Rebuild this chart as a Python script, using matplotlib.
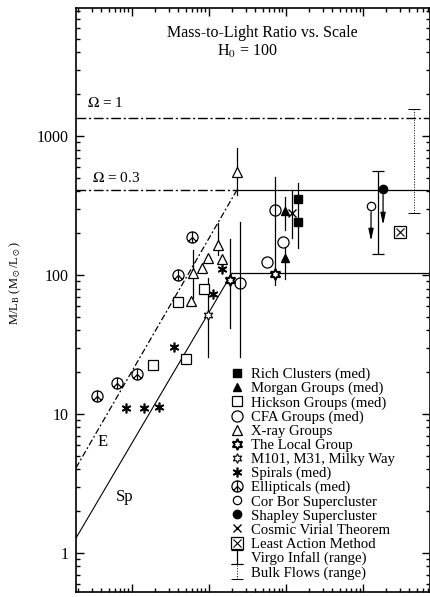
import numpy as np
import matplotlib.pyplot as plt
from matplotlib.path import Path
from matplotlib.ticker import FixedLocator, FuncFormatter, NullFormatter, LogLocator

plt.rcParams['font.family'] = ['Liberation Serif', 'DejaVu Serif']
plt.rcParams['mathtext.fontset'] = 'stix'

# scale R (h^-1 Mpc) and M/L_B values
rich_r = [1.43, 1.43]
rich_ml = [353, 241]
rich_lo, rich_hi = 157, 460

morgan_r = [0.97, 0.97]
morgan_ml = [290, 133]
morgan_lo = [211, 94]
morgan_hi = [365, 160]

hickson_r = [0.0187, 0.0503, 0.0396, 0.0861]
hickson_ml = [22.7, 24.7, 64.3, 79.8]

cfa_r = [0.72, 0.914, 0.567, 0.253]
cfa_ml = [294, 173, 124, 88]

xray_r = [0.0583, 0.0619, 0.0811, 0.0971, 0.131, 0.148, 0.231]
xray_ml = [65.3, 104, 113, 133, 165, 131, 552]
xray_err_r = [0.0619, 0.131, 0.231]
xray_err_lo = [68.7, 140, 377]
xray_err_hi = [152, 237, 820]

local_r = [0.1875, 0.72]
local_ml = [92.5, 102]
local_lo = [41.9, 85.2]
local_hi = [182, 508]

m101_r = [0.0971]
m101_ml = [51.9]
m101_lo, m101_hi = 25.9, 95.7

cfa_err_r = 0.253
cfa_err_lo, cfa_err_hi = 25.9, 241

spiral_r = [0.0084, 0.0143, 0.0224, 0.035, 0.113, 0.148]
spiral_ml = [11.0, 11.1, 11.3, 30.5, 73.5, 111]

ellip_r = [0.0035, 0.0064, 0.0116, 0.0396, 0.0601]
ellip_ml = [13.4, 16.6, 19.5, 100, 188]

corbor_r, corbor_ml, corbor_lim = 12.7, 314, 168
shapley_r, shapley_ml, shapley_lim = 18.2, 417, 219

virial_r = [1.2]
virial_ml = [280]
virial_lo, virial_hi = 185, 410

least_r, least_ml = 30.3, 205
virgo_r, virgo_lo, virgo_hi = 15.7, 142, 561
bulk_r, bulk_lo, bulk_hi = 45.9, 280, 1563

omega1_ml = 1350
omega03_ml = 410
e_r = [0.00188, 0.231]
e_ml = [4.1, 410]
sp_r = [0.00188, 0.199]
sp_ml = [1.28, 103]
plateau_sp = 103

legend_labels = ['Rich Clusters (med)', 'Morgan Groups (med)', 'Hickson Groups (med)',
                 'CFA Groups (med)', 'X-ray Groups', 'The Local Group',
                 'M101, M31, Milky Way', 'Spirals (med)', 'Ellipticals (med)',
                 'Cor Bor Supercluster', 'Shapley Supercluster', 'Cosmic Virial Theorem',
                 'Least Action Method', 'Virgo Infall (range)', 'Bulk Flows (range)']

xmin, xmax = 0.00188, 74.0
ymin, ymax = 0.524, 8340

# peace-sign marker for the ellipticals
peace = Path.make_compound_path(
    Path.unit_circle(),
    Path([(0, -1), (0, 1), (0, 0), (-0.7, -0.7), (0, 0), (0.7, -0.7)],
         [Path.MOVETO, Path.LINETO, Path.MOVETO, Path.LINETO, Path.MOVETO, Path.LINETO]))

fig = plt.figure(figsize=(4.3, 5.97), dpi=100)
ax = fig.add_axes([0.1767, 0.0084, 0.8233, 0.978])
ax.set_xscale('log')
ax.set_yscale('log')
ax.set_xlim(xmin, xmax)
ax.set_ylim(ymin, ymax)

k = dict(color='black', lw=0.9)

# model lines
ax.axhline(omega1_ml, color='black', lw=1.0, ls=(0, (7, 2, 1.5, 2)))
ax.plot([xmin, e_r[1]], [omega03_ml, omega03_ml], color='black', lw=1.0, ls=(0, (7, 2, 1.5, 2)))
ax.plot([e_r[1], xmax], [omega03_ml, omega03_ml], **k)
ax.plot(e_r, e_ml, color='black', lw=0.9, ls=(0, (5, 2, 1.5, 2)))
ax.plot(sp_r, sp_ml, color='black', lw=0.8)
ax.plot([sp_r[1], xmax], [plateau_sp, plateau_sp], **k)

# error bars
for r, lo, hi in zip(xray_err_r, xray_err_lo, xray_err_hi):
    ax.plot([r, r], [lo, hi], **k)
for r, lo, hi in zip(local_r, local_lo, local_hi):
    ax.plot([r, r], [lo, hi], **k)
for r, lo, hi in zip(morgan_r, morgan_lo, morgan_hi):
    ax.plot([r, r], [lo, hi], **k)
ax.plot([m101_r[0]] * 2, [m101_lo, m101_hi], **k)
ax.plot([cfa_err_r] * 2, [cfa_err_lo, cfa_err_hi], **k)
ax.plot([virial_r[0]] * 2, [virial_lo, virial_hi], **k)
ax.plot([rich_r[0]] * 2, [rich_lo, rich_hi], **k)

# points
h_rich, = ax.plot(rich_r, rich_ml, 's', color='black', ms=6)
h_morgan, = ax.plot(morgan_r, morgan_ml, '^', color='black', ms=6)
h_hick, = ax.plot(hickson_r, hickson_ml, 's', mfc='white', mec='black', mew=0.9, ms=7)
h_cfa, = ax.plot(cfa_r, cfa_ml, 'o', mfc='none', mec='black', mew=0.9, ms=8)
h_xray, = ax.plot(xray_r, xray_ml, '^', mfc='white', mec='black', mew=0.9, ms=7)
h_local, = ax.plot(local_r, local_ml, marker=(6, 1, 0), ls='none', mfc='white', mec='black', mew=1.4, ms=8)
h_m101, = ax.plot(m101_r, m101_ml, marker=(6, 1, 0), ls='none', mfc='white', mec='black', mew=0.8, ms=7)
h_spiral, = ax.plot(spiral_r, spiral_ml, marker=(6, 2, 0), ls='none', color='black', mew=1.2, ms=7)
h_ellip, = ax.plot(ellip_r, ellip_ml, marker=peace, ls='none', mfc='white', mec='black', mew=0.9, ms=8)
h_corbor, = ax.plot([corbor_r], [corbor_ml], 'o', mfc='white', mec='black', mew=0.9, ms=6)
h_shap, = ax.plot([shapley_r], [shapley_ml], 'o', color='black', ms=6)
h_vir, = ax.plot(virial_r, virial_ml, 'x', color='black', ms=6, mew=1.0)
h_least1, = ax.plot([least_r], [least_ml], 's', mfc='white', mec='black', mew=0.9, ms=8)
h_least2, = ax.plot([least_r], [least_ml], 'x', color='black', ms=6, mew=0.8)

for r, y0, y1 in [(corbor_r, corbor_ml, corbor_lim), (shapley_r, shapley_ml, shapley_lim)]:
    ax.annotate('', xy=(r, y1), xytext=(r, y0 * 0.95),
                arrowprops=dict(arrowstyle='-|>,head_length=0.7,head_width=0.15', color='black', lw=0.9))

h_virgo = ax.errorbar([virgo_r], [np.sqrt(virgo_lo * virgo_hi)],
                      yerr=[[np.sqrt(virgo_lo * virgo_hi) - virgo_lo], [virgo_hi - np.sqrt(virgo_lo * virgo_hi)]],
                      fmt='none', ecolor='black', elinewidth=0.9, capsize=4, capthick=0.9)
h_bulk = ax.errorbar([bulk_r], [np.sqrt(bulk_lo * bulk_hi)],
                     yerr=[[np.sqrt(bulk_lo * bulk_hi) - bulk_lo], [bulk_hi - np.sqrt(bulk_lo * bulk_hi)]],
                     fmt='none', ecolor='black', elinewidth=0.7, capsize=4, capthick=0.7)
h_bulk[2][0].set_linestyle(':')

handles = [h_rich, h_morgan, h_hick, h_cfa, h_xray, h_local, h_m101, h_spiral, h_ellip,
           h_corbor, h_shap, h_vir, (h_least1, h_least2), h_virgo, h_bulk]
ax.legend(handles, legend_labels, loc='upper left', bbox_to_anchor=(0.435, 0.384),
          frameon=False, fontsize=10.6, handlelength=1.0, handletextpad=0.45,
          labelspacing=0.05, borderpad=0, borderaxespad=0)

# labels
ax.text(0.525, 0.957, 'Mass-to-Light Ratio vs. Scale', transform=ax.transAxes, ha='center', va='center', fontsize=11.5)
ax.text(0.485, 0.925, r'H$_0$ = 100', transform=ax.transAxes, ha='center', va='center', fontsize=11.5)
ax.text(0.031, 0.837, r'$\Omega$ = 1', transform=ax.transAxes, ha='left', va='center', fontsize=11)
ax.text(0.045, 0.709, r'$\Omega$ = 0.3', transform=ax.transAxes, ha='left', va='center', fontsize=11)
ax.text(0.076, 0.257, 'E', transform=ax.transAxes, ha='center', va='center', fontsize=12)
ax.text(0.138, 0.163, 'Sp', transform=ax.transAxes, ha='center', va='center', fontsize=12)
fig.text(15 / 430, 1 - 283 / 597, r'M/L$_{\rm B}$ (M$_\odot$/L$_\odot$)', rotation=90,
         ha='center', va='center', fontsize=9)

# axes styling
ax.yaxis.set_major_locator(FixedLocator([1, 10, 100, 1000]))
ax.yaxis.set_major_formatter(FuncFormatter(lambda v, p: '%d' % v))
ax.yaxis.set_minor_locator(LogLocator(base=10, subs=np.arange(2, 10)))
ax.yaxis.set_minor_formatter(NullFormatter())
ax.xaxis.set_major_formatter(NullFormatter())
ax.xaxis.set_minor_formatter(NullFormatter())
ax.tick_params(which='both', direction='in', top=True, right=True, width=1.0)
ax.tick_params(which='major', length=6, labelsize=11.5, pad=5)
ax.tick_params(which='minor', length=3)
for s in ax.spines.values():
    s.set_linewidth(1.2)

fig.savefig('out.png', dpi=100)
